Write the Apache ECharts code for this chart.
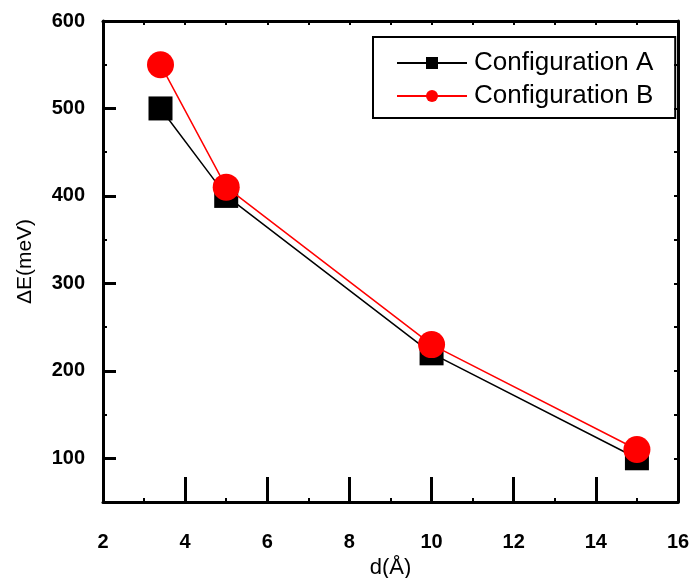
<!DOCTYPE html>
<html>
<head>
<meta charset="utf-8">
<script src="https://cdn.jsdelivr.net/npm/echarts@6/dist/echarts.min.js"></script>
<style>
html,body{margin:0;padding:0;background:#fff;}
#chart{width:694px;height:578px;}
</style>
</head>
<body>
<div id="chart"></div>
<script>
const seriesNames = ['Configuration A', 'Configuration B'];
const dValues = [3.4, 5, 10, 15];
const energyA = [500, 400, 220, 100];
const energyB = [550, 410, 230, 110];
const yMajorTicks = [100, 200, 300, 400, 500, 600];

const FONT = 'Liberation Sans';
const chart = echarts.init(document.getElementById('chart'), null, {renderer: 'canvas'});

function pairs(xs, ys) { return xs.map((x, i) => [x, ys[i]]); }

const option = {
  backgroundColor: '#fff',
  animation: false,
  grid: {left: 103, top: 21, right: 16, bottom: 76, containLabel: false, outerBoundsMode: 'none'},
  legend: {
    orient: 'vertical',
    left: 373,
    top: 37,
    padding: [13, 22, 9, 23],
    itemGap: 7,
    itemWidth: 70,
    itemHeight: 15,
    borderColor: '#000',
    borderWidth: 2,
    borderRadius: 0,
    textStyle: {fontFamily: FONT, fontSize: 26, color: '#000', padding: [0, 0, 0, 2]},
    data: seriesNames
  },
  xAxis: [
    {
      type: 'value', position: 'bottom', min: 2, max: 16, interval: 2,
      name: 'd(Å)', nameLocation: 'middle', nameGap: 42,
      nameTextStyle: {fontFamily: FONT, fontSize: 22, color: '#000'},
      axisLine: {show: true, onZero: false, lineStyle: {color: '#000', width: 3}},
      axisTick: {show: true, inside: true, length: 25, lineStyle: {color: '#000', width: 3}},
      minorTick: {show: true, splitNumber: 2, length: 4, lineStyle: {color: '#000', width: 2}},
      axisLabel: {show: true, margin: 30, fontFamily: FONT, fontSize: 20, fontWeight: 'bold', color: '#000'},
      splitLine: {show: false}, minorSplitLine: {show: false}
    },
    {
      type: 'value', position: 'top', min: 2, max: 16, interval: 1,
      axisLine: {show: true, onZero: false, lineStyle: {color: '#000', width: 3}},
      axisTick: {show: true, inside: true, length: 4, lineStyle: {color: '#000', width: 2}},
      axisLabel: {show: false}, splitLine: {show: false}
    }
  ],
  yAxis: [
    {
      type: 'value', position: 'left', min: 50, max: 600, interval: 50,
      name: 'ΔE(meV)', nameLocation: 'middle', nameGap: 67, nameRotate: 90,
      nameTextStyle: {fontFamily: FONT, fontSize: 21, color: '#000'},
      axisLine: {show: true, onZero: false, lineStyle: {color: '#000', width: 3}},
      axisTick: {show: true, inside: true, length: 4, lineStyle: {color: '#000', width: 2}},
      axisLabel: {show: true, margin: 18, fontFamily: FONT, fontSize: 20, fontWeight: 'bold', color: '#000',
        formatter: v => (yMajorTicks.indexOf(v) >= 0 ? String(v) : '')},
      splitLine: {show: false}
    },
    {
      type: 'value', position: 'left', min: 50, max: 600,
      axisLine: {show: false},
      axisTick: {show: true, inside: true, length: 13, customValues: yMajorTicks, lineStyle: {color: '#000', width: 3}},
      axisLabel: {show: false}, splitLine: {show: false}
    },
    {
      type: 'value', position: 'right', min: 50, max: 600, interval: 50,
      axisLine: {show: true, onZero: false, lineStyle: {color: '#000', width: 3}},
      axisTick: {show: true, inside: true, length: 4, lineStyle: {color: '#000', width: 2}},
      axisLabel: {show: false}, splitLine: {show: false}
    }
  ],
  series: [
    {
      name: seriesNames[0], type: 'line', xAxisIndex: 0, yAxisIndex: 0,
      data: pairs(dValues, energyA),
      symbol: 'rect', symbolSize: 24,
      lineStyle: {color: '#000', width: 1.5},
      itemStyle: {color: '#000'},
      z: 2
    },
    {
      name: seriesNames[1], type: 'line', xAxisIndex: 0, yAxisIndex: 0,
      data: pairs(dValues, energyB),
      symbol: 'circle', symbolSize: 27,
      lineStyle: {color: '#ff0000', width: 1.5},
      itemStyle: {color: '#ff0000'},
      z: 3
    }
  ]
};
chart.setOption(option);
</script>
</body>
</html>
